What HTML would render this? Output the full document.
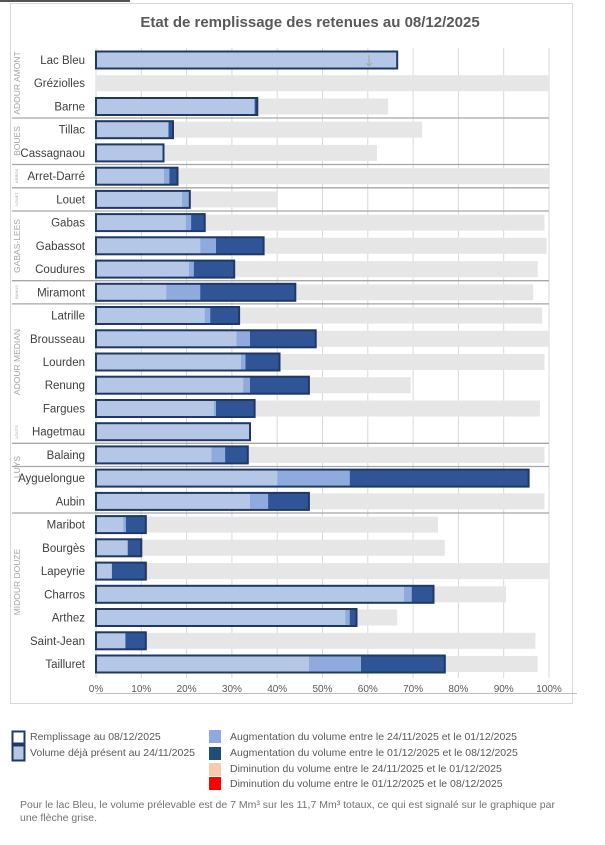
<!DOCTYPE html><html><head><meta charset="utf-8"><style>body{margin:0;background:#fff}svg{display:block}text{font-family:"Liberation Sans",sans-serif}</style></head><body>
<svg width="605" height="845" viewBox="0 0 605 845" xmlns="http://www.w3.org/2000/svg">
<rect x="0" y="0" width="130" height="2" fill="#555"/>
<rect x="10.5" y="3.5" width="562" height="700" fill="#fff" stroke="#d9d9d9"/>
<text x="310" y="27" text-anchor="middle" font-size="15" font-weight="bold" fill="#595959">Etat de remplissage des retenues au 08/12/2025</text>
<g stroke="#d9d9d9" stroke-width="1">
<line x1="96" y1="48" x2="96" y2="678"/><line x1="141.3" y1="48" x2="141.3" y2="678"/><line x1="186.6" y1="48" x2="186.6" y2="678"/><line x1="231.9" y1="48" x2="231.9" y2="678"/><line x1="277.2" y1="48" x2="277.2" y2="678"/><line x1="322.5" y1="48" x2="322.5" y2="678"/><line x1="367.8" y1="48" x2="367.8" y2="678"/><line x1="413.1" y1="48" x2="413.1" y2="678"/><line x1="458.4" y1="48" x2="458.4" y2="678"/><line x1="503.7" y1="48" x2="503.7" y2="678"/><line x1="549" y1="48" x2="549" y2="678"/>
</g>
<g fill="#e6e6e6">
<rect x="96" y="75.2" width="453" height="16"/>
<rect x="96" y="98.5" width="292.2" height="16"/>
<rect x="96" y="121.7" width="326.2" height="16"/>
<rect x="96" y="144.9" width="280.9" height="16"/>
<rect x="96" y="168.2" width="453" height="16"/>
<rect x="96" y="191.4" width="181.2" height="16"/>
<rect x="96" y="214.6" width="448.5" height="16"/>
<rect x="96" y="237.8" width="450.7" height="16"/>
<rect x="96" y="261.1" width="441.7" height="16"/>
<rect x="96" y="284.3" width="437.1" height="16"/>
<rect x="96" y="307.5" width="446.2" height="16"/>
<rect x="96" y="330.8" width="453" height="16"/>
<rect x="96" y="354" width="448.5" height="16"/>
<rect x="96" y="377.2" width="314.8" height="16"/>
<rect x="96" y="400.5" width="443.9" height="16"/>
<rect x="96" y="423.7" width="154" height="16"/>
<rect x="96" y="446.9" width="448.5" height="16"/>
<rect x="96" y="493.4" width="448.5" height="16"/>
<rect x="96" y="516.6" width="342" height="16"/>
<rect x="96" y="539.8" width="348.8" height="16"/>
<rect x="96" y="563.1" width="453" height="16"/>
<rect x="96" y="586.3" width="410" height="16"/>
<rect x="96" y="609.5" width="301.2" height="16"/>
<rect x="96" y="632.8" width="439.4" height="16"/>
<rect x="96" y="656" width="441.7" height="16"/>
</g>
<g fill="#b4c7e7">
<rect x="96" y="51.5" width="301.2" height="17"/>
<rect x="96" y="98" width="158.6" height="17"/>
<rect x="96" y="121.2" width="72.5" height="17"/>
<rect x="96" y="144.4" width="67.5" height="17"/>
<rect x="96" y="167.7" width="68" height="17"/>
<rect x="96" y="190.9" width="86.1" height="17"/>
<rect x="96" y="214.1" width="89.7" height="17"/>
<rect x="96" y="237.3" width="104.2" height="17"/>
<rect x="96" y="260.6" width="92.9" height="17"/>
<rect x="96" y="283.8" width="70.2" height="17"/>
<rect x="96" y="307" width="108.7" height="17"/>
<rect x="96" y="330.3" width="140.4" height="17"/>
<rect x="96" y="353.5" width="145" height="17"/>
<rect x="96" y="376.7" width="147.2" height="17"/>
<rect x="96" y="400" width="117.8" height="17"/>
<rect x="96" y="423.2" width="154" height="17"/>
<rect x="96" y="446.4" width="115.5" height="17"/>
<rect x="96" y="469.6" width="181.2" height="17"/>
<rect x="96" y="492.9" width="154" height="17"/>
<rect x="96" y="516.1" width="27.2" height="17"/>
<rect x="96" y="539.3" width="31.7" height="17"/>
<rect x="96" y="562.6" width="15.9" height="17"/>
<rect x="96" y="585.8" width="308" height="17"/>
<rect x="96" y="609" width="249.2" height="17"/>
<rect x="96" y="632.3" width="29.4" height="17"/>
<rect x="96" y="655.5" width="212.9" height="17"/>
</g>
<g fill="#8faadc">
<rect x="164" y="167.7" width="5.4" height="17"/>
<rect x="182.1" y="190.9" width="7.7" height="17"/>
<rect x="185.7" y="214.1" width="5.4" height="17"/>
<rect x="200.2" y="237.3" width="15.8" height="17"/>
<rect x="188.9" y="260.6" width="4.9" height="17"/>
<rect x="166.2" y="283.8" width="34" height="17"/>
<rect x="204.7" y="307" width="5.5" height="17"/>
<rect x="236.4" y="330.3" width="13.6" height="17"/>
<rect x="241" y="353.5" width="4.5" height="17"/>
<rect x="243.2" y="376.7" width="6.8" height="17"/>
<rect x="213.8" y="400" width="2.2" height="17"/>
<rect x="211.5" y="446.4" width="13.6" height="17"/>
<rect x="277.2" y="469.6" width="72.5" height="17"/>
<rect x="250" y="492.9" width="18.1" height="17"/>
<rect x="123.2" y="516.1" width="2.7" height="17"/>
<rect x="404" y="585.8" width="7.7" height="17"/>
<rect x="345.2" y="609" width="4.5" height="17"/>
<rect x="308.9" y="655.5" width="52.1" height="17"/>
</g>
<g fill="#2f5597">
<rect x="254.6" y="98" width="2.7" height="17"/>
<rect x="168.5" y="121.2" width="4.5" height="17"/>
<rect x="169.4" y="167.7" width="8.1" height="17"/>
<rect x="191.1" y="214.1" width="13.6" height="17"/>
<rect x="216" y="237.3" width="47.6" height="17"/>
<rect x="193.8" y="260.6" width="40.4" height="17"/>
<rect x="200.2" y="283.8" width="95.1" height="17"/>
<rect x="210.2" y="307" width="28.9" height="17"/>
<rect x="250" y="330.3" width="65.7" height="17"/>
<rect x="245.5" y="353.5" width="34" height="17"/>
<rect x="250" y="376.7" width="58.9" height="17"/>
<rect x="216" y="400" width="38.6" height="17"/>
<rect x="225.1" y="446.4" width="22.7" height="17"/>
<rect x="349.7" y="469.6" width="178.9" height="17"/>
<rect x="268.1" y="492.9" width="40.8" height="17"/>
<rect x="125.9" y="516.1" width="19.9" height="17"/>
<rect x="127.7" y="539.3" width="13.6" height="17"/>
<rect x="111.9" y="562.6" width="33.9" height="17"/>
<rect x="411.7" y="585.8" width="21.8" height="17"/>
<rect x="349.7" y="609" width="6.8" height="17"/>
<rect x="125.4" y="632.3" width="20.4" height="17"/>
<rect x="361" y="655.5" width="83.8" height="17"/>
</g>
<rect x="145.8" y="562.6" width="1.8" height="17" fill="#f8cbad"/>
<g fill="none" stroke="#1f3864" stroke-width="2">
<rect x="96" y="51.5" width="301.2" height="17"/>
<rect x="96" y="98" width="161.3" height="17"/>
<rect x="96" y="121.2" width="77" height="17"/>
<rect x="96" y="144.4" width="67.5" height="17"/>
<rect x="96" y="167.7" width="81.5" height="17"/>
<rect x="96" y="190.9" width="93.8" height="17"/>
<rect x="96" y="214.1" width="108.7" height="17"/>
<rect x="96" y="237.3" width="167.6" height="17"/>
<rect x="96" y="260.6" width="138.2" height="17"/>
<rect x="96" y="283.8" width="199.3" height="17"/>
<rect x="96" y="307" width="143.1" height="17"/>
<rect x="96" y="330.3" width="219.7" height="17"/>
<rect x="96" y="353.5" width="183.5" height="17"/>
<rect x="96" y="376.7" width="212.9" height="17"/>
<rect x="96" y="400" width="158.6" height="17"/>
<rect x="96" y="423.2" width="154" height="17"/>
<rect x="96" y="446.4" width="151.8" height="17"/>
<rect x="96" y="469.6" width="432.6" height="17"/>
<rect x="96" y="492.9" width="212.9" height="17"/>
<rect x="96" y="516.1" width="49.8" height="17"/>
<rect x="96" y="539.3" width="45.3" height="17"/>
<rect x="96" y="562.6" width="49.8" height="17"/>
<rect x="96" y="585.8" width="337.5" height="17"/>
<rect x="96" y="609" width="260.5" height="17"/>
<rect x="96" y="632.3" width="49.8" height="17"/>
<rect x="96" y="655.5" width="348.8" height="17"/>
</g>
<g stroke="#a6a6a6" stroke-width="1"><line x1="369" y1="55" x2="369" y2="66"/><line x1="366" y1="63" x2="369" y2="66"/><line x1="372" y1="63" x2="369" y2="66"/></g>
<g stroke="#a6a6a6" stroke-width="1.3">
<line x1="12" y1="118" x2="549" y2="118"/><line x1="12" y1="164.5" x2="549" y2="164.5"/><line x1="12" y1="187.8" x2="549" y2="187.8"/><line x1="12" y1="211" x2="549" y2="211"/><line x1="12" y1="280.7" x2="549" y2="280.7"/><line x1="12" y1="303.9" x2="549" y2="303.9"/><line x1="12" y1="443.3" x2="549" y2="443.3"/><line x1="12" y1="466.5" x2="549" y2="466.5"/><line x1="12" y1="513" x2="549" y2="513"/>
</g>
<g font-size="11.5" fill="#404040" text-anchor="end">
<text x="85" y="64">Lac Bleu</text><text x="85" y="87.2">Gréziolles</text><text x="85" y="110.5">Barne</text><text x="85" y="133.7">Tillac</text><text x="85" y="156.9">Cassagnaou</text><text x="85" y="180.2">Arret-Darré</text><text x="85" y="203.4">Louet</text><text x="85" y="226.6">Gabas</text><text x="85" y="249.8">Gabassot</text><text x="85" y="273.1">Coudures</text><text x="85" y="296.3">Miramont</text><text x="85" y="319.5">Latrille</text><text x="85" y="342.8">Brousseau</text><text x="85" y="366">Lourden</text><text x="85" y="389.2">Renung</text><text x="85" y="412.5">Fargues</text><text x="85" y="435.7">Hagetmau</text><text x="85" y="458.9">Balaing</text><text x="85" y="482.1">Ayguelongue</text><text x="85" y="505.4">Aubin</text><text x="85" y="528.6">Maribot</text><text x="85" y="551.8">Bourgès</text><text x="85" y="575.1">Lapeyrie</text><text x="85" y="598.3">Charros</text><text x="85" y="621.5">Arthez</text><text x="85" y="644.8">Saint-Jean</text><text x="85" y="668">Tailluret</text>
</g>
<g fill="#a6a6a6" text-anchor="middle">
<text font-size="8.5" transform="translate(20,83) rotate(-90)">ADOUR AMONT</text>
<text font-size="8.5" transform="translate(20,141) rotate(-90)">BOUES</text>
<text font-size="4" transform="translate(18,176) rotate(-90)">ARROS</text>
<text font-size="4" transform="translate(18,199) rotate(-90)">LOUET</text>
<text font-size="8.5" transform="translate(20,246) rotate(-90)">GABAS-LEES</text>
<text font-size="4" transform="translate(18,292) rotate(-90)">BAHUS</text>
<text font-size="8.5" transform="translate(20,362) rotate(-90)">ADOUR MEDIAN</text>
<text font-size="4" transform="translate(18,432) rotate(-90)">LOUTS</text>
<text font-size="8.5" transform="translate(20,467) rotate(-90)">LUYS</text>
<text font-size="8.5" transform="translate(20,582) rotate(-90)">MIDOUR DOUZE</text>
</g>
<line x1="96" y1="693.5" x2="577" y2="693.5" stroke="#bfbfbf"/>
<g font-size="10" fill="#595959" text-anchor="middle">
<text x="96" y="692">0%</text><text x="141.3" y="692">10%</text><text x="186.6" y="692">20%</text><text x="231.9" y="692">30%</text><text x="277.2" y="692">40%</text><text x="322.5" y="692">50%</text><text x="367.8" y="692">60%</text><text x="413.1" y="692">70%</text><text x="458.4" y="692">80%</text><text x="503.7" y="692">90%</text><text x="549" y="692">100%</text>
</g>
<rect x="12.5" y="731.5" width="12" height="12" fill="#fff" stroke="#1f3864" stroke-width="2"/>
<rect x="12.5" y="745.5" width="12" height="15" fill="#b4c7e7" stroke="#1f3864" stroke-width="2"/>
<rect x="209" y="730" width="12" height="13" fill="#8faadc"/>
<rect x="209" y="747" width="12" height="13" fill="#1f4e79"/>
<rect x="209" y="763" width="12" height="13" fill="#f8cbad"/>
<rect x="209" y="777" width="12" height="13" fill="#ff0000"/>
<g font-size="10.5" fill="#595959">
<text x="30" y="740">Remplissage au 08/12/2025</text>
<text x="30" y="756">Volume déjà présent au 24/11/2025</text>
<text x="230" y="740">Augmentation du volume entre le 24/11/2025 et le 01/12/2025</text>
<text x="230" y="756">Augmentation du volume entre le 01/12/2025 et le 08/12/2025</text>
<text x="230" y="772">Diminution du volume entre le 24/11/2025 et le 01/12/2025</text>
<text x="230" y="787">Diminution du volume entre le 01/12/2025 et le 08/12/2025</text>
<text x="20" y="808" fill="#767171">Pour le lac Bleu, le volume prélevable est de 7 Mm³ sur les 11,7 Mm³ totaux, ce qui est signalé sur le graphique par</text>
<text x="20" y="821" fill="#767171">une flèche grise.</text>
</g>
</svg>
</body></html>
